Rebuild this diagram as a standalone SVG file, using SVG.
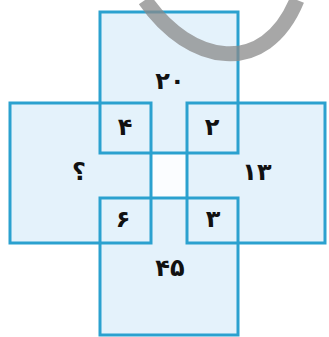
<svg xmlns="http://www.w3.org/2000/svg" width="329" height="337" viewBox="0 0 329 337">
<style>
.fill{fill:#e4f2fb;stroke:none}
.box{fill:none;stroke:#2ba1cf;stroke-width:3}
.t{font-family:"DejaVu Sans",sans-serif;font-weight:bold;font-size:24px;fill:#111;text-anchor:middle;dominant-baseline:central}
</style>
<rect width="329" height="337" fill="#fff"/>
<g id="fills">
<rect class="fill" x="100" y="12" width="138" height="141"/>
<rect class="fill" x="10" y="103" width="141" height="140"/>
<rect class="fill" x="187" y="103" width="138" height="140"/>
<rect class="fill" x="100" y="198" width="138" height="137"/>
<rect x="152.5" y="154.5" width="33" height="42" fill="#fbfdff"/>
</g>
<g id="top"><rect class="box" x="100" y="12" width="138" height="141"/><text class="t" x="170" y="81">۲۰</text></g>
<g id="left"><rect class="box" x="10" y="103" width="141" height="140"/><text class="t" x="79" y="172">؟</text></g>
<g id="right"><rect class="box" x="187" y="103" width="138" height="140"/><text class="t" x="257" y="172">۱۳</text></g>
<g id="bottom"><rect class="box" x="100" y="198" width="138" height="137"/><text class="t" x="170" y="268">۴۵</text></g>
<g id="tl"><text class="t" x="125" y="127">۴</text></g>
<g id="tr"><text class="t" x="212" y="127">۲</text></g>
<g id="bl"><text class="t" x="123" y="219">۶</text></g>
<g id="br"><text class="t" x="213" y="219">۳</text></g>
<g id="connectors"></g>
<path d="M145 0 C190 65 265 78 297 0" fill="none" stroke="#8a8a8a" stroke-opacity="0.75" stroke-width="15"/>
</svg>
